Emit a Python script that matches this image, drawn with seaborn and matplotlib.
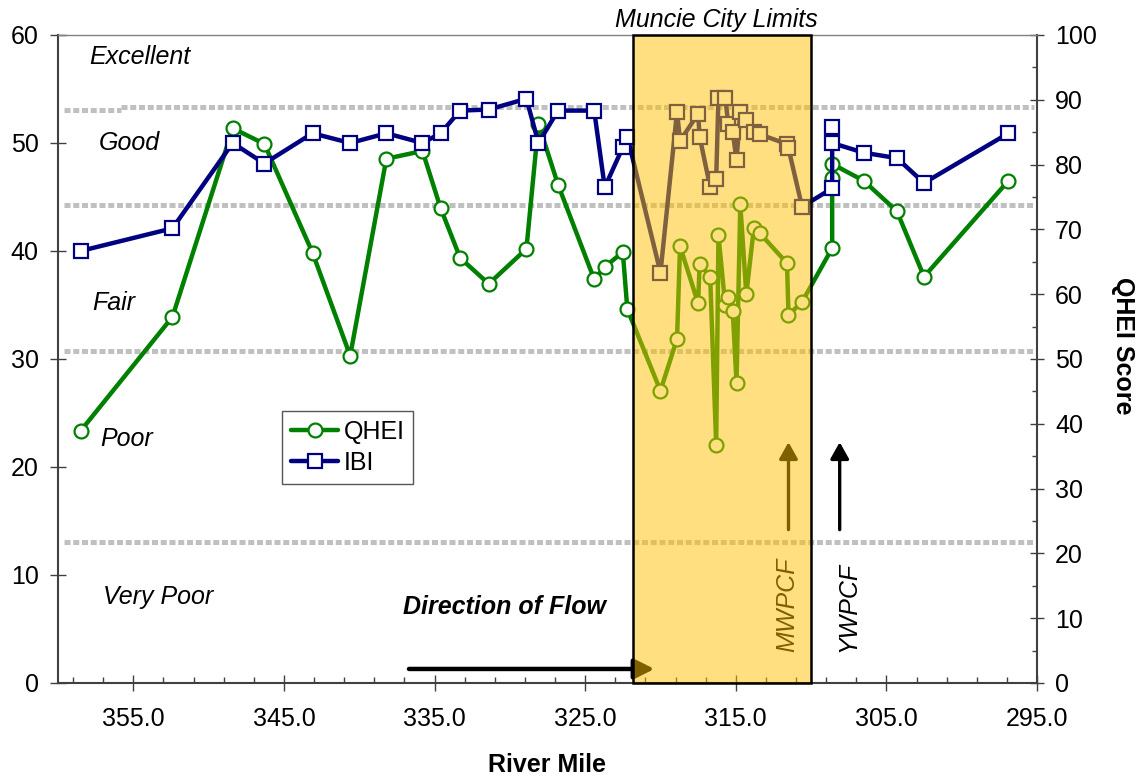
import numpy as np
import pandas as pd
import matplotlib
matplotlib.use("Agg")
import matplotlib.pyplot as plt
import seaborn as sns

# ---------------- data ----------------
river_mile = [358.5, 352.4, 348.4, 346.3, 343.1, 340.6, 338.2, 335.8, 334.6, 333.3,
              331.4, 328.9, 328.1, 326.8, 324.4, 323.7, 322.5, 322.2,
              320.0, 318.9, 318.7, 317.5, 317.4, 316.7, 316.3, 316.15, 315.7, 315.5,
              315.2, 314.95, 314.7, 314.3, 313.8, 313.4, 311.6, 311.5, 310.6,
              308.6, 308.6, 308.6, 306.5, 304.3, 302.5, 296.9]
qhei = [38.9, 56.5, 85.6, 83.2, 66.4, 50.5, 80.9, 82.1, 73.3, 65.6,
        61.6, 67.0, 86.3, 76.9, 62.3, 64.2, 66.5, 57.7,
        45.1, 53.1, 67.4, 58.6, 64.7, 62.7, 36.7, 69.1, 58.3, 59.6,
        57.4, 46.3, 73.9, 60.0, 70.2, 69.4, 64.8, 56.8, 58.8,
        67.1, 77.9, 80.1, 77.5, 72.8, 62.7, 77.5]
ibi = [40.0, 42.1, 50.0, 48.1, 50.9, 50.0, 50.9, 50.0, 50.9, 53.0,
       53.1, 54.1, 50.0, 53.0, 53.0, 45.9, 49.6, 50.6,
       38.0, 52.9, 50.2, 52.7, 50.6, 45.9, 46.7, 54.2, 54.2, 51.8,
       51.0, 48.4, 52.9, 52.1, 51.0, 50.8, 49.9, 49.5, 44.1,
       45.8, 51.5, 50.0, 49.1, 48.6, 46.3, 50.9]

class_labels = ["Excellent", "Good", "Fair", "Poor", "Very Poor"]
class_label_x = [357.9, 357.3, 357.7, 357.2, 357.0]
class_label_y = [58.0, 50.0, 35.2, 22.6, 8.0]
band_lines = [44.3, 30.7, 13.1]
city_limits = (321.8, 310.0)
x_ticks = [355, 345, 335, 325, 315, 305, 295]
plant_labels = ["MWPCF", "YWPCF"]
plant_miles = [311.5, 308.1]

# ---------------- style ----------------
sns.set_style("ticks")
plt.rcParams["font.family"] = ["Liberation Sans", "DejaVu Sans"]
plt.rcParams["font.size"] = 18
plt.rcParams["text.color"] = "black"

W, H = 1136, 777
fig = plt.figure(figsize=(W / 100, H / 100), dpi=100)
ax = fig.add_axes([58 / W, 1 - 683 / H, (1037 - 58) / W, (683 - 35) / H])
ax2 = ax.twinx()
ax.set_zorder(ax2.get_zorder() + 1)
ax.patch.set_visible(False)

df = pd.DataFrame({"mile": river_mile, "QHEI": qhei, "IBI": ibi})

# dashed class boundaries (IBI units) - beneath the data
dash = (0, (1.2, 0.55))
ax2.hlines([53.1], 359.6, 355.8, transform=ax.transData, colors="#c0c0c0",
           lw=3.6, linestyles=dash, zorder=1)
ax2.hlines([53.3], 355.8, 295.2, transform=ax.transData, colors="#c0c0c0",
           lw=3.6, linestyles=dash, zorder=1)
ax2.hlines(band_lines, 359.6, 295.2, transform=ax.transData, colors="#c0c0c0",
           lw=3.6, linestyles=dash, zorder=1)

sns.lineplot(data=df, x="mile", y="QHEI", ax=ax2, sort=False, estimator=None,
             color="green", linewidth=3.2, marker="o", markersize=10,
             markerfacecolor="white", markeredgecolor="green",
             markeredgewidth=1.6, zorder=3, legend=False)
sns.lineplot(data=df, x="mile", y="IBI", ax=ax, sort=False, estimator=None,
             color="navy", linewidth=3.2, marker="s", markersize=10,
             markerfacecolor="white", markeredgecolor="navy",
             markeredgewidth=1.6, zorder=3, legend=False)

ax.set_xlim(360, 295)
ax.set_ylim(0, 60)
ax2.set_ylim(0, 100)
ax.set_xlabel("")
ax.set_ylabel("")
ax2.set_ylabel("")

ax.set_xticks(x_ticks)
ax.set_xticklabels([f"{v:.1f}" for v in x_ticks])
ax.set_xticks(np.arange(359, 294, -2), minor=True)
ax.set_yticks(np.arange(0, 61, 10))
ax2.set_yticks(np.arange(0, 101, 10))
ax2.set_yticks(np.arange(0, 101, 5), minor=True)

tc = "#404040"
ax.tick_params(axis="y", which="major", direction="inout", length=12, width=1,
               pad=8, color=tc, labelcolor="black", labelsize=18)
ax.tick_params(axis="x", which="major", direction="inout", length=11, width=1,
               pad=12, color=tc, labelcolor="black", labelsize=18)
ax.tick_params(axis="x", which="minor", direction="in", length=4.5, width=1, color=tc)
ax2.tick_params(axis="y", which="major", direction="inout", length=10, width=1,
                pad=8, color=tc, labelcolor="black", labelsize=18)
ax2.tick_params(axis="y", which="minor", direction="in", length=3.6, width=1, color=tc)

for s in ax2.spines.values():
    s.set_visible(False)
for name in ["left", "bottom", "right"]:
    ax.spines[name].set_visible(True)
    ax.spines[name].set_color(tc)
    ax.spines[name].set_linewidth(1.5)
ax.spines["top"].set_visible(True)
ax.spines["top"].set_color("#808080")
ax.spines["top"].set_linewidth(1.0)

# class labels
for lab, lx, ly in zip(class_labels, class_label_x, class_label_y):
    ax.text(lx, ly, lab, ha="left", va="center", fontstyle="italic",
            fontsize=18, color="black", zorder=4)

# flow direction
ax.text(337.1, 7.0, "Direction of Flow", ha="left", va="center",
        fontstyle="italic", fontweight="bold", fontsize=18, color="black", zorder=4)
ax.annotate("", xy=(320.4, 1.3), xytext=(336.7, 1.3),
            arrowprops=dict(arrowstyle="-|>,head_length=0.6,head_width=0.3",
                            lw=3.2, color="black", shrinkA=0, shrinkB=0,
                            mutation_scale=20), zorder=4)

# treatment plants
for lab, m in zip(plant_labels, plant_miles):
    ax.annotate("", xy=(m, 22.3), xytext=(m, 14.2),
                arrowprops=dict(arrowstyle="-|>,head_length=0.5,head_width=0.28",
                                lw=2.4, color="black", shrinkA=0, shrinkB=0,
                                mutation_scale=20), zorder=4)
ax.text(311.55, 7.2, plant_labels[0], rotation=90, ha="center", va="center",
        fontstyle="italic", fontsize=18, color="black", zorder=4)
ax.text(307.5, 7.0, plant_labels[1], rotation=90, ha="center", va="center",
        fontstyle="italic", fontsize=18, color="black", zorder=4)

# city limits overlay
ax.axvspan(city_limits[1], city_limits[0], facecolor=(1.0, 0.757, 0.0, 0.5),
           edgecolor="black", lw=1.8, zorder=10, clip_on=False)

# legend
handles = [ax2.lines[0], ax.lines[0]]
leg = ax.legend(handles, ["QHEI", "IBI"], loc="upper left",
                bbox_to_anchor=(0.229, 0.42), frameon=True, fancybox=False,
                edgecolor="#555555", framealpha=1, borderpad=0.35,
                labelspacing=0.3, handlelength=1.9, handletextpad=0.2,
                borderaxespad=0, fontsize=18)
leg.get_frame().set_linewidth(1.0)
for t in leg.get_texts():
    t.set_color("black")
leg.set_zorder(20)

fig.text(716 / W, 1 - 20 / H, "Muncie City Limits", ha="center", va="center",
         fontstyle="italic", fontsize=18, color="black")
fig.text(547 / W, 1 - 765 / H, "River Mile", ha="center", va="center",
         fontweight="bold", fontsize=18, color="black")
fig.text(1123 / W, 1 - 346 / H, "QHEI Score", ha="center", va="center",
         rotation=-90, fontweight="bold", fontsize=18, color="black")

fig.savefig("out.png", dpi=100)
